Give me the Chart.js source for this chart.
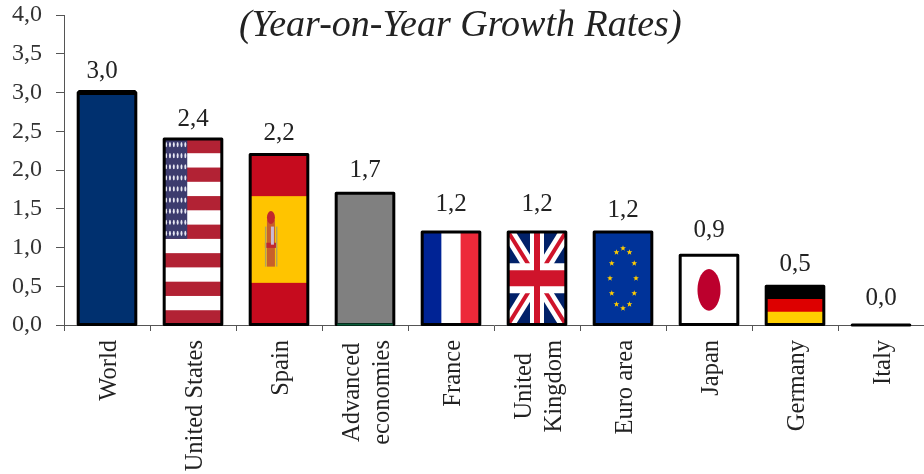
<!DOCTYPE html>
<html>
<head>
<meta charset="utf-8">
<title>Year-on-Year Growth Rates</title>
<script src="https://cdn.jsdelivr.net/npm/chart.js@4"></script>
<style>
    html, body { margin: 0; padding: 0; background: #fff; overflow: hidden; }
    canvas { display: block; }
</style>
</head>
<body>
<canvas id="growthChart" width="924" height="474"></canvas>
<script>
var categories = ['World', 'United States', 'Spain', ['Advanced', 'economies'], 'France',
    ['United', 'Kingdom'], 'Euro area', 'Japan', 'Germany', 'Italy'];
var growth = [3.0, 2.4, 2.2, 1.7, 1.2, 1.2, 1.2, 0.9, 0.5, 0.0];
var flagNames = ['world', 'usa', 'spain', 'advanced', 'france', 'uk', 'eu', 'japan', 'germany', 'italy'];
var fillColors = ['#00306f', '#ffffff', '#c60b1e', '#808080', '#ffffff', '#012169', '#003399', '#ffffff', '#000000', '#000000'];
// Value labels were placed by hand, so each one has its own small [dx, dy] nudge
var labelNudge = [[-5, 0], [0, 2], [0, 0], [0, -1], [0, -6], [0, -6], [0, 0], [0, -3], [0, 0], [0, -5]];

var SERIF = '"Liberation Serif", serif';

function commaFormat(v) {
    return v.toFixed(1).replace('.', ',');
}

function hStripes(ctx, b, colors) {
    var h = b.h / colors.length;
    colors.forEach(function (c, i) {
        ctx.fillStyle = c;
        ctx.fillRect(b.x, b.y + i * h, b.w, h + 0.5);
    });
}

function vStripes(ctx, b, colors) {
    var w = b.w / colors.length;
    colors.forEach(function (c, i) {
        ctx.fillStyle = c;
        ctx.fillRect(b.x + i * w, b.y, w + 0.5, b.h);
    });
}

function line(ctx, x1, y1, x2, y2, color, width) {
    ctx.strokeStyle = color;
    ctx.lineWidth = width;
    ctx.beginPath();
    ctx.moveTo(x1, y1);
    ctx.lineTo(x2, y2);
    ctx.stroke();
}

function star(ctx, cx, cy, r) {
    ctx.beginPath();
    for (var i = 0; i < 10; i++) {
        var rad = i % 2 ? r * 0.42 : r;
        var a = -Math.PI / 2 + i * Math.PI / 5;
        ctx.lineTo(cx + rad * Math.cos(a), cy + rad * Math.sin(a));
    }
    ctx.closePath();
    ctx.fill();
}

// One painter per bar, each fills the box the bar element occupies
var painters = {
    world: function (ctx, b) {
        ctx.fillStyle = '#00306f';
        ctx.fillRect(b.x, b.y, b.w, b.h);
        ctx.fillStyle = '#000';
        ctx.fillRect(b.x, b.y - 2.5, b.w, 5);
    },
    usa: function (ctx, b) {
        var colors = [];
        for (var i = 0; i < 13; i++) colors.push(i % 2 ? '#ffffff' : '#b22234');
        hStripes(ctx, b, colors);
        var cw = b.w * 0.4, ch = b.h * 7 / 13;
        ctx.fillStyle = '#3c3b6e';
        ctx.fillRect(b.x, b.y, cw, ch);
        ctx.fillStyle = '#e6e6f2';
        for (var r = 0; r < 9; r++) {
            for (var c = 0; c < 6; c++) {
                ctx.beginPath();
                ctx.ellipse(b.x + (c + 0.5) * cw / 6, b.y + (r + 0.5) * ch / 9, 1, 2.6, 0, 0, Math.PI * 2);
                ctx.fill();
            }
        }
    },
    spain: function (ctx, b) {
        ctx.fillStyle = '#c60b1e';
        ctx.fillRect(b.x, b.y, b.w, b.h);
        ctx.fillStyle = '#ffc400';
        ctx.fillRect(b.x, b.y + b.h * 0.245, b.w, b.h * 0.51);
        // Coat of arms, kept as a few small shapes
        var cx = b.x + b.w * 0.36, top = b.y + b.h * 0.31, h = b.h * 0.38;
        ctx.fillStyle = '#c8602a';
        ctx.fillRect(cx - 4, top + h * 0.2, 8, h * 0.72);
        ctx.fillStyle = '#c1272d';
        ctx.beginPath();
        ctx.ellipse(cx, top + h * 0.16, 4, h * 0.1, 0, 0, Math.PI * 2);
        ctx.fill();
        ctx.fillRect(cx - 6, top + h * 0.55, 12, h * 0.08);
        ctx.fillStyle = '#c9b9d6';
        ctx.fillRect(cx, top + h * 0.3, 3, h * 0.28);
        ctx.fillStyle = '#b0a060';
        ctx.fillRect(cx - 6, top + h * 0.3, 1.5, h * 0.62);
        ctx.fillRect(cx + 5, top + h * 0.3, 1.5, h * 0.62);
    },
    advanced: function (ctx, b) {
        ctx.fillStyle = '#808080';
        ctx.fillRect(b.x, b.y, b.w, b.h);
    },
    france: function (ctx, b) {
        vStripes(ctx, b, ['#002395', '#ffffff', '#ed2939']);
    },
    uk: function (ctx, b) {
        ctx.fillStyle = '#012169';
        ctx.fillRect(b.x, b.y, b.w, b.h);
        var r = b.x + b.w, d = b.y + b.h, mx = b.x + b.w / 2, my = b.y + b.h / 2;
        line(ctx, b.x, b.y, r, d, '#ffffff', 13);
        line(ctx, r, b.y, b.x, d, '#ffffff', 13);
        line(ctx, b.x, b.y, r, d, '#cf142b', 4);
        line(ctx, r, b.y, b.x, d, '#cf142b', 4);
        line(ctx, mx, b.y, mx, d, '#ffffff', 14);
        line(ctx, b.x, my, r, my, '#ffffff', 30);
        line(ctx, mx, b.y, mx, d, '#cf142b', 6);
        line(ctx, b.x, my, r, my, '#cf142b', 16);
    },
    eu: function (ctx, b) {
        ctx.fillStyle = '#003399';
        ctx.fillRect(b.x, b.y, b.w, b.h);
        ctx.fillStyle = '#ffcc00';
        var cx = b.x + b.w / 2, cy = b.y + b.h / 2;
        for (var i = 0; i < 12; i++) {
            var a = i * Math.PI / 6;
            star(ctx, cx + 13 * Math.sin(a), cy - 30 * Math.cos(a), 3);
        }
    },
    japan: function (ctx, b) {
        ctx.fillStyle = '#ffffff';
        ctx.fillRect(b.x, b.y, b.w, b.h);
        ctx.fillStyle = '#bc002d';
        ctx.beginPath();
        ctx.ellipse(b.x + b.w / 2, b.y + b.h / 2, b.w * 0.2, b.h * 0.3, 0, 0, Math.PI * 2);
        ctx.fill();
    },
    germany: function (ctx, b) {
        hStripes(ctx, b, ['#000000', '#dd0000', '#ffce00']);
    },
    italy: function () {}
};

var flagBars = {
    id: 'flagBars',
    afterDatasetsDraw: function (chart) {
        var ctx = chart.ctx;
        chart.getDatasetMeta(0).data.forEach(function (bar, i) {
            var b = {
                x: bar.x - bar.width / 2,
                y: bar.y,
                w: bar.width,
                h: bar.base - bar.y
            };
            ctx.save();
            ctx.beginPath();
            ctx.rect(b.x, b.y - 3, b.w, b.h + 3);
            ctx.clip();
            painters[flagNames[i]](ctx, b);
            ctx.restore();

            // Outline is stroked here so the zero bar still shows as a line
            ctx.save();
            ctx.strokeStyle = '#000';
            ctx.lineWidth = 3;
            ctx.lineJoin = 'round';
            ctx.strokeRect(b.x, b.y, b.w, b.h);
            if (flagNames[i] === 'advanced') {
                ctx.fillStyle = '#0b5d3a';
                ctx.fillRect(b.x + 1, b.y + b.h - 1, b.w - 2, 2);
            }
            ctx.restore();

            ctx.save();
            ctx.fillStyle = '#222';
            ctx.font = '25px ' + SERIF;
            ctx.textAlign = 'center';
            ctx.textBaseline = 'bottom';
            ctx.fillText(commaFormat(growth[i]), bar.x + labelNudge[i][0], bar.y - 9 + labelNudge[i][1]);
            ctx.restore();
        });
    }
};

// Chart.js hangs the first line of a rotated label on the tick, these need the block centred
var categoryLabels = {
    id: 'categoryLabels',
    afterDraw: function (chart) {
        var ctx = chart.ctx, scale = chart.scales.x;
        var size = 24.5, lineGap = 30, top = scale.top + 15;
        ctx.save();
        ctx.fillStyle = '#222';
        ctx.font = size + 'px ' + SERIF;
        ctx.textBaseline = 'middle';
        categories.forEach(function (label, i) {
            var lines = [].concat(label);
            var widest = Math.max.apply(null, lines.map(function (t) { return ctx.measureText(t).width; }));
            var cx = scale.getPixelForTick(i) + 3;
            lines.forEach(function (text, n) {
                ctx.save();
                ctx.translate(cx + (n - (lines.length - 1) / 2) * lineGap, top + widest / 2);
                ctx.rotate(-Math.PI / 2);
                ctx.textAlign = 'center';
                ctx.fillText(text, 0, 0);
                ctx.restore();
            });
        });
        ctx.restore();
    }
};

var ctx = document.getElementById('growthChart').getContext('2d');
var growthChart = new Chart(ctx, {
    type: 'bar',
    data: {
        labels: categories,
        datasets: [{
            data: growth,
            backgroundColor: fillColors,
            borderWidth: 0,
            barPercentage: 0.67,
            categoryPercentage: 1
        }]
    },
    options: {
        responsive: false,
        animation: false,
        layout: { padding: { top: 0, right: -6, left: 0, bottom: 0 } },
        plugins: {
            legend: { display: false },
            tooltip: { enabled: false },
            title: {
                display: true,
                text: '(Year-on-Year Growth Rates) ',
                color: '#222',
                font: { family: SERIF, size: 38, style: 'italic', weight: 'normal' },
                // negative padding lets the title overlap the plot
                padding: { top: 3, bottom: -33.6 }
            }
        },
        scales: {
            x: {
                offset: true,
                afterFit: function (scale) { scale.height = 149; },
                border: { color: '#555', width: 1 },
                grid: { offset: true, drawOnChartArea: false, color: '#555', tickLength: 6 },
                ticks: { display: false, autoSkip: false }
            },
            y: {
                min: 0,
                max: 4,
                afterFit: function (scale) {
                    scale.width = 64;
                    // tick padding would otherwise push the plot area down
                    scale.paddingTop = 0;
                    scale.paddingBottom = 0;
                },
                border: { color: '#555', width: 1 },
                grid: { drawOnChartArea: false, color: '#555', tickLength: 8 },
                ticks: {
                    stepSize: 0.5,
                    padding: 14,
                    color: '#333',
                    font: { family: SERIF, size: 24 },
                    callback: function (value) { return commaFormat(value); }
                }
            }
        }
    },
    plugins: [flagBars, categoryLabels]
});
</script>
</body>
</html>
